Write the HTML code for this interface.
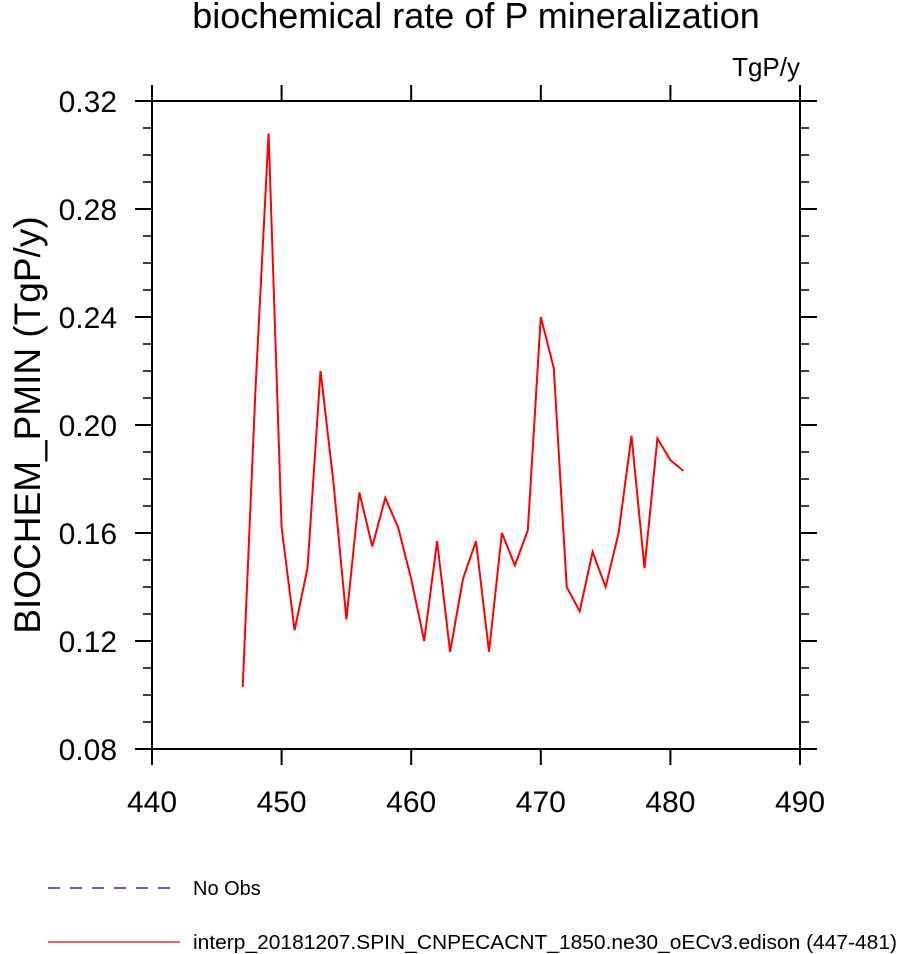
<!DOCTYPE html>
<html><head><meta charset="utf-8"><style>body{margin:0;background:#fff}svg{display:block;font-family:"Liberation Sans",sans-serif}</style></head>
<body>
<svg id="chart" width="898" height="954" viewBox="0 0 898 954">
<text x="476" y="28" font-size="36" text-anchor="middle">biochemical rate of P mineralization</text>
<text x="800" y="76" font-size="26" text-anchor="end">TgP/y</text>
<text transform="translate(40,425) rotate(-90)" font-size="37" text-anchor="middle">BIOCHEM_PMIN  (TgP/y)</text>
<g id="axes"></g>
<path id="series" fill="none" stroke="#ff0000" stroke-width="2"/>
<line x1="48" y1="888" x2="180" y2="888" stroke="#00008b" stroke-width="1.2" stroke-dasharray="12,10"/>
<text x="193" y="895" font-size="20">No Obs</text>
<line x1="48" y1="942" x2="180" y2="942" stroke="#ff0000" stroke-width="1.2"/>
<text x="193" y="949" font-size="20" textLength="704" lengthAdjust="spacingAndGlyphs">interp_20181207.SPIN_CNPECACNT_1850.ne30_oECv3.edison (447-481)</text>
</svg>
<script>
const years=[447,448,449,450,451,452,453,454,455,456,457,458,459,460,461,462,463,464,465,466,467,468,469,470,471,472,473,474,475,476,477,478,479,480,481];
const values=[0.103,0.215,0.308,0.162,0.124,0.147,0.220,0.179,0.128,0.175,0.155,0.173,0.162,0.143,0.120,0.157,0.116,0.143,0.157,0.116,0.160,0.148,0.161,0.240,0.221,0.140,0.131,0.153,0.140,0.160,0.196,0.147,0.195,0.187,0.183];
const xTicks=[440,450,460,470,480,490];
const yTicks=[0.08,0.12,0.16,0.20,0.24,0.28,0.32];
const L=152,R=800,T=101,B=749;
const xs=v=>L+(v-440)/50*(R-L);
const ys=v=>B-(v-0.08)/0.24*(B-T);
const NS='http://www.w3.org/2000/svg';
const ax=document.getElementById('axes');
function ln(x1,y1,x2,y2,w,name){const l=document.createElementNS(NS,'line');
l.setAttribute('x1',x1);l.setAttribute('y1',y1);l.setAttribute('x2',x2);l.setAttribute('y2',y2);
l.setAttribute('stroke','#000');l.setAttribute('stroke-width',w);


ax.appendChild(l);}
function tx(x,y,s,a,name){const t=document.createElementNS(NS,'text');
t.setAttribute('x',x);t.setAttribute('y',y);t.setAttribute('font-size','30');t.setAttribute('text-anchor',a);t.textContent=s;


ax.appendChild(t);}
const r=document.createElementNS(NS,'rect');
r.setAttribute('x',L);r.setAttribute('y',T);r.setAttribute('width',R-L);r.setAttribute('height',B-T);
r.setAttribute('fill','none');r.setAttribute('stroke','#000');r.setAttribute('stroke-width','2');


ax.appendChild(r);
xTicks.forEach(v=>{const x=xs(v);ln(x,B,x,B+16,2,'x-tick');ln(x,T,x,T-16,2,'x-tick-top');tx(x,812,String(v),'middle','x-tick-label');});
yTicks.forEach(v=>{const y=ys(v);ln(L-17,y,L,y,2,'y-tick');ln(R,y,R+17,y,2,'y-tick-right');tx(L-35,y+11,v.toFixed(2),'end','y-tick-label');});
for(let i=0;i<24;i++){if(i%4===0)continue;const y=ys(0.08+i*0.01);ln(L-9,y,L,y,1.5,'y-minor-tick');ln(R,y,R+9,y,1.5,'y-minor-tick-right');}
document.getElementById('series').setAttribute('d',years.map((yr,i)=>(i?'L':'M')+xs(yr).toFixed(1)+','+ys(values[i]).toFixed(1)).join(' '));
</script>
</body></html>
